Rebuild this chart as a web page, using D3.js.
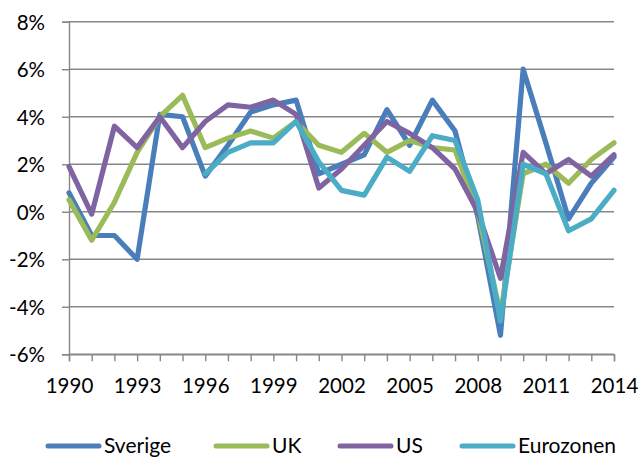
<!DOCTYPE html>
<html>
<head>
<meta charset="utf-8">
<script src="https://cdn.jsdelivr.net/npm/d3@7"></script>
<style>
  html, body { margin: 0; padding: 0; background: #fff; }
  svg { display: block; font-family: Lato, "Open Sans", sans-serif; }
</style>
</head>
<body>
<svg id="chart" width="638" height="459"></svg>
<script>
const years = d3.range(1990, 2015);
const xTickLabels = [1990, 1993, 1996, 1999, 2002, 2005, 2008, 2011, 2014];
const yTicks = [-6, -4, -2, 0, 2, 4, 6, 8];
const seriesNames = ["Sverige", "UK", "US", "Eurozonen"];
const seriesColors = ["#4a7ebb", "#9bbb59", "#8064a2", "#4bacc6"];

const sverige = [0.8, -1.0, -1.0, -2.0, 4.1, 4.0, 1.5, 2.8, 4.2, 4.5, 4.7, 1.6, 2.0, 2.4, 4.3, 2.8, 4.7, 3.4, -0.2, -5.2, 6.0, 2.9, -0.3, 1.2, 2.3];
const uk = [0.5, -1.2, 0.4, 2.5, 4.0, 4.9, 2.7, 3.1, 3.4, 3.1, 3.8, 2.8, 2.5, 3.3, 2.5, 3.0, 2.7, 2.6, 0.0, -4.3, 1.6, 2.0, 1.2, 2.2, 2.9];
const us = [1.9, -0.1, 3.6, 2.7, 4.0, 2.7, 3.8, 4.5, 4.4, 4.7, 4.1, 1.0, 1.8, 2.8, 3.8, 3.3, 2.7, 1.8, 0.0, -2.8, 2.5, 1.6, 2.2, 1.5, 2.4];
const eurozonen = [null, null, null, null, null, null, 1.6, 2.5, 2.9, 2.9, 3.8, 2.1, 0.9, 0.7, 2.3, 1.7, 3.2, 3.0, 0.5, -4.6, 2.0, 1.6, -0.8, -0.3, 0.9];
const seriesValues = [sverige, uk, us, eurozonen];

(function () {
const svg = d3.select("#chart");
const pLeft = 69, pRight = 614, pTop = 21.7, pBottom = 354.3;
const x = d3.scalePoint().domain(years).range([pLeft, pRight]);
const y = d3.scaleLinear().domain([-6, 8]).range([pBottom, pTop]);
const gridColor = "#878787";
const fontStack = "Lato, 'Open Sans', sans-serif";

// gridlines
svg.append("g").selectAll("line").data(yTicks).join("line")
  .attr("x1", pLeft).attr("x2", pRight)
  .attr("y1", d => y(d)).attr("y2", d => y(d))
  .attr("stroke", gridColor).attr("stroke-width", 1.4);

// y axis
const yAxis = svg.append("g").attr("transform", `translate(${pLeft},0)`)
  .call(d3.axisLeft(y).tickValues(yTicks).tickSize(7).tickFormat(d => d + "%"));
yAxis.select(".domain").attr("stroke", gridColor).attr("stroke-width", 1.4);
yAxis.selectAll(".tick line").attr("stroke", gridColor).attr("stroke-width", 1.4);
yAxis.selectAll(".tick text")
  .attr("x", -24).attr("dy", "0.37em")
  .attr("font-size", 20.5).attr("fill", "#000")
  .style("font-family", fontStack);

// x axis
const xAxis = svg.append("g").attr("transform", `translate(0,${pBottom})`)
  .call(d3.axisBottom(x).tickValues(years).tickSize(7)
    .tickFormat(d => xTickLabels.includes(d) ? String(d) : ""));
xAxis.select(".domain").attr("stroke", gridColor).attr("stroke-width", 1.4);
xAxis.selectAll(".tick line").attr("stroke", gridColor).attr("stroke-width", 1.4);
xAxis.selectAll(".tick text")
  .attr("y", 38.5).attr("dy", "0")
  .attr("font-size", 20.5).attr("fill", "#000")
  .style("font-family", fontStack);

// lines
const line = d3.line()
  .defined(d => d.v !== null)
  .x(d => x(d.year)).y(d => y(d.v));

seriesValues.forEach((vals, i) => {
  const data = years.map((yr, j) => ({year: yr, v: vals[j]}));
  svg.append("path")
    .datum(data)
    .attr("d", line)
    .attr("fill", "none")
    .attr("stroke", seriesColors[i])
    .attr("stroke-width", 5.2)
    .attr("stroke-linejoin", "round")
    .attr("stroke-linecap", "round");
});

// legend
const legendX = [46, 214, 338, 460];
const legY = 446;
const leg = svg.append("g");
seriesNames.forEach((name, i) => {
  leg.append("line")
    .attr("x1", legendX[i] + 2).attr("x2", legendX[i] + 53)
    .attr("y1", legY).attr("y2", legY)
    .attr("stroke", seriesColors[i]).attr("stroke-width", 5)
    .attr("stroke-linecap", "round");
  leg.append("text")
    .attr("x", legendX[i] + 58).attr("y", legY + 7.2)
    .attr("font-size", 21).attr("fill", "#000")
    .text(name);
});
})();
</script>
</body>
</html>
